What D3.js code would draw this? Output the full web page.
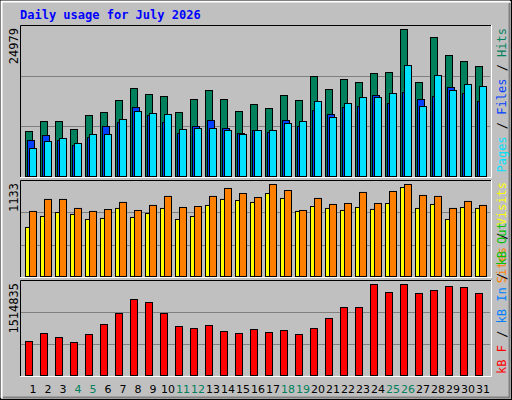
<!DOCTYPE html>
<html><head><meta charset="utf-8">
<script src="https://cdn.jsdelivr.net/npm/d3@7"></script>
<style>body{margin:0;background:#fff}</style></head>
<body><svg id="c" width="512" height="400"></svg>
<script>
const days = d3.range(1, 32);
const weekend = [4,5,11,12,18,19,25,26];
const hits = [7646,9345,9345,7986,10364,10874,12913,14952,13932,13592,10874,13083,14612,13083,11044,12233,11553,13762,12913,16990,14782,16481,15971,17500,17670,24979,15971,23617,20558,19539,18689];
const files = [6116,6966,6116,5267,6626,8495,9175,11723,10364,9175,7306,8495,9514,8155,7306,7815,7476,9514,8495,11213,10534,11723,11893,13762,12403,14272,13083,13592,15121,14102,12743];
const pages = [4757,5947,6456,5607,7136,7136,9684,11044,10704,10534,7986,8155,8155,7815,7136,7815,7815,9005,9345,12743,10024,12403,13422,13422,14102,18859,11893,17160,14612,15631,15291];
const visits = [604,739,788,764,702,715,838,727,776,838,702,739,875,949,936,912,1022,961,801,862,838,813,850,826,899,1096,838,887,702,850,838];
const sites = [801,949,949,838,801,825,912,813,875,986,850,862,986,1084,1022,973,1133,1059,813,961,887,899,1035,899,1047,1133,998,986,838,924,875];
const kbytes = [565991,699174,632586,549344,682527,848997,1032114,1265172,1215231,1032114,815703,782409,832350,732468,699174,765762,715821,749115,682527,782409,948879,1131996,1131996,1514835,1381701,1514835,1365054,1414995,1481583,1464936,1365054];
const yLabels = ["24979","1133","1514835"];

const svg = d3.select("#c");
const mono = "'DejaVu Sans Mono', monospace";
// frame
svg.append("rect").attr("x",0.5).attr("y",0.5).attr("width",511).attr("height",399).attr("fill","#c0c0c0").attr("stroke","#000");
svg.append("path").attr("d","M1.5,398V1.5H510").attr("stroke","#fff").attr("fill","none").attr("stroke-width",2);
svg.append("path").attr("d","M3,397.5H509.5V3").attr("stroke","#808080").attr("fill","none").attr("stroke-width",2);
svg.append("text").attr("x",20).attr("y",19).attr("font-family",mono).attr("font-weight","bold").attr("font-size",12).attr("fill","#0000ff").text("Daily usage for July 2026");

const x = d3.scaleLinear().domain([1,31]).range([25,475]);
const panels = [
  {top:25,bottom:177,max:24979,base:176,peak:29,series:[[hits,"#00805c",0],[files,"#0040ff",2],[pages,"#00e0ff",4]]},
  {top:180,bottom:277,max:1133,base:276,peak:184,series:[[visits,"#ffff00",0],[sites,"#ff8000",4]]},
  {top:280,bottom:376,max:1514835,base:375,peak:284,series:[[kbytes,"#ff0000",0]]}
];
panels.forEach((p,pi)=>{
  const g = svg.append("g");
  g.append("rect").attr("x",20).attr("y",p.top).attr("width",471).attr("height",p.bottom-p.top).attr("fill","#c0c0c0");
  const h = p.bottom - p.top;
  [1,2].forEach(k=>{
    const gy = p.top + Math.round(h*k/3)+ (pi==0?0:0);
    g.append("line").attr("x1",21).attr("x2",490).attr("y1",gy+0.5).attr("y2",gy+0.5).attr("stroke","#808080");
  });
  const y = d3.scaleLinear().domain([0,p.max]).range([p.base,p.peak]);
  p.series.forEach(([vals,col,off])=>{
    g.selectAll(null).data(days).enter().append("rect")
      .attr("x",d=>x(d)+off+0.5).attr("width",7)
      .attr("y",(d,i)=>y(vals[i])+0.5).attr("height",(d,i)=>p.base-y(vals[i]))
      .attr("fill",col).attr("stroke","#000");
  });
  g.append("path").attr("d",`M20.5,${p.bottom}V${p.top+0.5}H491`).attr("stroke","#000").attr("fill","none");
  g.append("path").attr("d",`M20,${p.bottom+0.5}H491.5V${p.top}`).attr("stroke","#fff").attr("fill","none");
  g.append("text").attr("transform",`translate(18,${p.top+3}) rotate(-90)`).attr("text-anchor","end")
    .attr("font-family",mono).attr("font-size",12).attr("fill","#000").text(yLabels[pi]);
});
// right legends
function legend(parts, y, anchor){
  const t = svg.append("text").attr("transform",`translate(506,${y}) rotate(-90)`).attr("text-anchor",anchor)
    .attr("font-family",mono).attr("font-size",12);
  parts.forEach(([s,c])=>t.append("tspan").attr("fill",c).text(s));
}
legend([["Pages","#00e0ff"],[" / ","#000"],["Files","#0040ff"],[" / ","#000"],["Hits","#00805c"]],28,"end");
legend([["Sites","#ff8000"],[" / ","#000"],["Visits","#ffff00"]],182,"end");
legend([["kB F","#ff0000"],[" / ","#000"],["kB In","#0080ff"],[" / ","#000"],["kB Out","#00c000"]],374,"start");
// day labels
svg.selectAll(null).data(days).enter().append("text")
  .attr("x",d=>x(d)+8).attr("y",393).attr("text-anchor","middle")
  .attr("font-family","'DejaVu Sans', sans-serif").attr("font-size",11)
  .attr("fill",d=>weekend.includes(d)?"#00805c":"#000").text(d=>d);
</script></body></html>
